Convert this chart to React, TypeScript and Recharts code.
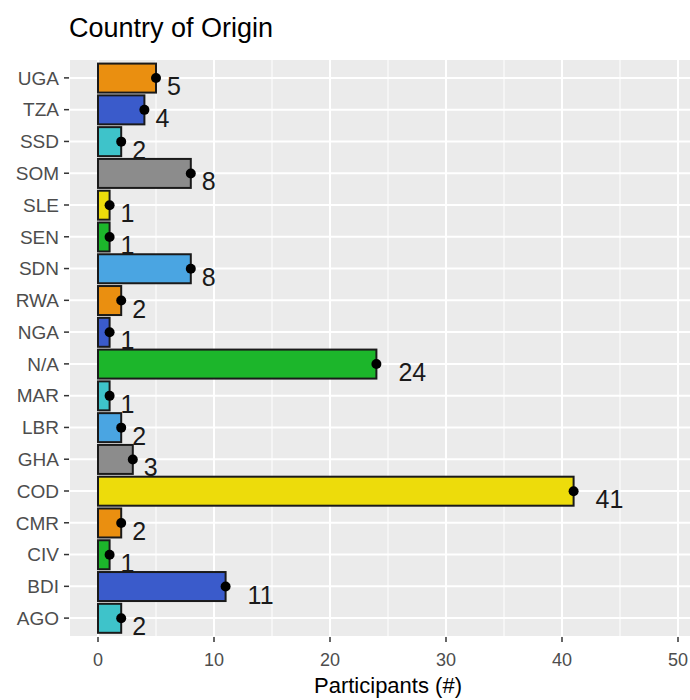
import { Bar, BarChart, CartesianGrid, XAxis, YAxis } from "recharts"

// top to bottom as drawn
const countries = ["UGA", "TZA", "SSD", "SOM", "SLE", "SEN", "SDN", "RWA", "NGA", "N/A", "MAR", "LBR", "GHA", "COD", "CMR", "CIV", "BDI", "AGO"]
const participants = [5, 4, 2, 8, 1, 1, 8, 2, 1, 24, 1, 2, 3, 41, 2, 1, 11, 2]
const xTicks = [0, 10, 20, 30, 40, 50]
const xMinorTicks = [5, 15, 25, 35, 45]

const ORANGE = "#EA8F10"
const BLUE = "#3A5BCB"
const CYAN = "#3EC3CA"
const GREY = "#8C8C8C"
const YELLOW = "#EDDC0B"
const GREEN = "#1CB62B"
const LIGHTBLUE = "#4AA5E2"
const barColors = [ORANGE, BLUE, CYAN, GREY, YELLOW, GREEN, LIGHTBLUE, ORANGE, BLUE, GREEN, CYAN, LIGHTBLUE, GREY, YELLOW, ORANGE, GREEN, BLUE, CYAN]

const data = countries.map((c, i) => ({ country: c, n: participants[i], color: barColors[i] }))

const FONT = "'Liberation Sans', Arial, Helvetica, sans-serif"

function BarWithDot(props: any) {
  const { x, y, width, height, payload } = props
  const end = x + width
  const cy = y + height / 2
  const label = String(payload.n)
  return (
    <g>
      <text x={end + 11 * label.length} y={cy + 17} fontSize={25} fill="#1A1A1A" fontFamily={FONT}>
        {label}
      </text>
      <rect x={x} y={y} width={width} height={height} fill={payload.color} stroke="#1A1A1A" strokeWidth={2} />
      <circle cx={end} cy={cy} r={5} fill="#000" />
    </g>
  )
}

function minorLines({ xAxis, offset }: any) {
  const s = xAxis && xAxis.scale
  if (typeof s === "function") return xMinorTicks.map((v) => s(v))
  return xMinorTicks.map((v) => offset.left + ((v + 2.5) / 55) * offset.width)
}

export default function App() {
  return (
    <div style={{ position: "absolute", left: 0, top: 0, width: 690, height: 700, overflow: "hidden", background: "#fff", fontFamily: FONT }}>
      <div style={{ position: "absolute", left: 69, top: 15, fontSize: 27, lineHeight: "27px", color: "#000", whiteSpace: "nowrap" }}>
        Country of Origin
      </div>
      <BarChart
        width={720}
        height={700}
        data={data}
        layout="vertical"
        barCategoryGap="5%"
        margin={{ top: 59, right: 13, left: 0, bottom: 0 }}
      >
        <CartesianGrid fill="#EBEBEB" stroke="#FFFFFF" strokeWidth={1} horizontal={false} verticalCoordinatesGenerator={minorLines} />
        <CartesianGrid stroke="#FFFFFF" strokeWidth={2} />
        <XAxis
          type="number"
          domain={[-2.5, 52.5]}
          ticks={xTicks}
          allowDataOverflow
          axisLine={false}
          tickSize={5}
          tickMargin={11}
          tickLine={{ stroke: "#333333", strokeWidth: 1.5 }}
          tick={{ fontSize: 18, fill: "#4D4D4D" }}
          height={63}
          label={{ value: "Participants (#)", position: "insideBottom", offset: 7, fontSize: 22, fill: "#000" }}
        />
        <YAxis
          type="category"
          dataKey="country"
          width={69}
          padding={{ top: 3, bottom: 3 }}
          axisLine={false}
          tickSize={5}
          tickMargin={5}
          tickLine={{ stroke: "#333333", strokeWidth: 1.5 }}
          tick={{ fontSize: 19, fill: "#4D4D4D" }}
          interval={0}
        />
        <Bar dataKey="n" shape={BarWithDot} isAnimationActive={false} />
      </BarChart>
    </div>
  )
}
